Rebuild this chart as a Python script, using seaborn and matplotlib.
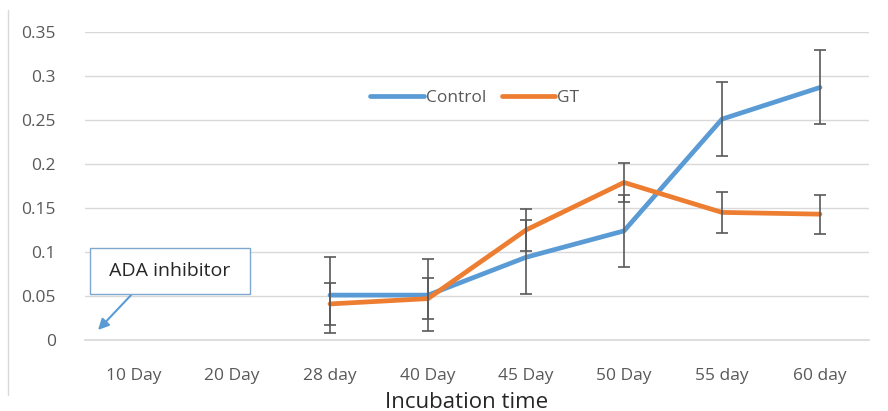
import numpy as np
import pandas as pd
import matplotlib
matplotlib.use("Agg")
import matplotlib.pyplot as plt
import seaborn as sns
from matplotlib.lines import Line2D

categories = ["10 Day", "20 Day", "28 day", "40 Day", "45 Day", "50 Day", "55 day", "60 day"]
control = [np.nan, np.nan, 0.051, 0.051, 0.094, 0.124, 0.251, 0.287]
control_err = [np.nan, np.nan, 0.043, 0.041, 0.042, 0.041, 0.042, 0.042]
gt = [np.nan, np.nan, 0.041, 0.047, 0.125, 0.179, 0.145, 0.143]
gt_err = [np.nan, np.nan, 0.024, 0.023, 0.024, 0.022, 0.023, 0.022]
yticks = [0, 0.05, 0.1, 0.15, 0.2, 0.25, 0.3, 0.35]
ytick_labels = ["0", "0.05", "0.1", "0.15", "0.2", "0.25", "0.3", "0.35"]

sns.set_theme(style="white")
plt.rcParams['font.family'] = ['Open Sans', 'DejaVu Sans']

pos = list(range(len(categories)))
df = pd.DataFrame({
    "pos": pos * 2,
    "value": control + gt,
    "series": ["Control"] * len(pos) + ["GT"] * len(pos),
})

fig = plt.figure(figsize=(8.88, 4.11), dpi=100)
ax = fig.add_axes([85 / 888, (411 - 340) / 411, 784 / 888, 308 / 411])

palette = {"Control": "#5B9BD5", "GT": "#ED7D31"}
sns.lineplot(data=df, x="pos", y="value", hue="series", palette=palette,
             linewidth=3.4, ax=ax, legend=False, zorder=3)

for vals, errs in [(control, control_err), (gt, gt_err)]:
    ax.errorbar(pos, vals, yerr=errs, fmt="none", ecolor="#595959",
                elinewidth=1.2, capsize=4, capthick=1.2, zorder=4)

ax.set_xlim(-0.5, len(categories) - 0.5)
ax.set_ylim(0, 0.35)
ax.set_yticks(yticks)
ax.set_yticklabels(ytick_labels)
ax.set_xticks(pos)
ax.set_xticklabels(categories)
ax.grid(axis="y", color="#d9d9d9", linewidth=1)
ax.set_axisbelow(True)
for s in ["top", "right", "left"]:
    ax.spines[s].set_visible(False)
ax.spines["bottom"].set_color("#d9d9d9")
ax.tick_params(axis="both", length=0, labelsize=12.5, colors="#595959")
ax.tick_params(axis="x", pad=20)
ax.tick_params(axis="y", pad=21)
ax.set_xlabel("Incubation time", fontsize=16, color="#262626", labelpad=4)
ax.xaxis.set_label_coords(0.487, -0.168)
ax.set_ylabel("")

handles = [Line2D([], [], color=palette["Control"], lw=3.4),
           Line2D([], [], color=palette["GT"], lw=3.4)]
leg = ax.legend(handles, ["Control", "GT"], loc="center", bbox_to_anchor=(0.497, 0.786),
                ncol=2, frameon=False, fontsize=12.5, handlelength=3.1,
                handletextpad=0.1, columnspacing=0.9)
for t in leg.get_texts():
    t.set_color("#595959")

ax.annotate(" ADA inhibitor ", xy=(-0.367, 0.0114), xytext=(0.367, 0.078),
            fontsize=14, color="#262626", ha="center", va="center",
            bbox=dict(boxstyle="square,pad=0.72", fc="white", ec="#7FA7CF", lw=1),
            arrowprops=dict(arrowstyle="-|>", color="#5B9BD5", lw=1.5,
                            shrinkA=0, shrinkB=0, mutation_scale=16,
                            relpos=(0.31, 0.0)),
            zorder=5)

fig.add_artist(Line2D([8 / 888, 8 / 888], [(411 - 395) / 411, (411 - 10) / 411],
                      color="#d9d9d9", lw=1, transform=fig.transFigure))

fig.savefig("out.png", dpi=100)
